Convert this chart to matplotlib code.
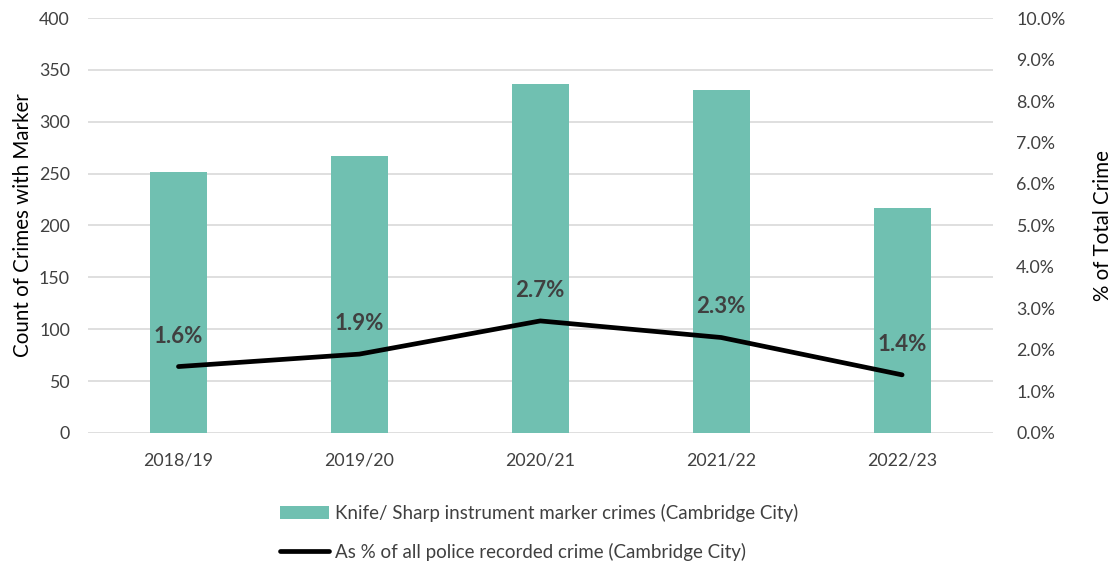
import matplotlib
matplotlib.use("Agg")
import matplotlib.pyplot as plt
from matplotlib.ticker import FuncFormatter, MultipleLocator
from matplotlib.lines import Line2D
from matplotlib.patches import Patch

plt.rcParams['font.family'] = ['Lato', 'DejaVu Sans']

years = ["2018/19", "2019/20", "2020/21", "2021/22", "2022/23"]
counts = [252, 267, 336, 331, 217]
pct = [1.6, 1.9, 2.7, 2.3, 1.4]
bar_label = "Knife/ Sharp instrument marker crimes (Cambridge City)"
line_label = "As % of all police recorded crime (Cambridge City)"

bar_color = "#70c0b1"
grid_color = "#d9d9d9"
text_color = "#404040"

fig = plt.figure(figsize=(11.14, 5.63), dpi=100)
ax = fig.add_axes([0.079, 0.231, 0.812, 0.737])
ax2 = ax.twinx()

x = list(range(len(years)))
ax.bar(x, counts, width=0.315, color=bar_color, zorder=2)
ax.set_ylim(0, 400)
ax.set_xlim(-0.5, len(years) - 0.5)
ax.yaxis.set_major_locator(MultipleLocator(50))
ax.grid(axis='y', color=grid_color, linewidth=1.2, zorder=0)
ax.set_axisbelow(True)
ax.set_xticks(x)
ax.set_xticklabels(years)
ax.tick_params(axis='both', length=0, labelsize=12.8, colors=text_color, pad=13)
ax.tick_params(axis='x', pad=14)
for s in ax.spines.values():
    s.set_visible(False)
for s in ax2.spines.values():
    s.set_visible(False)
ax.set_ylabel("Count of Crimes with Marker", fontsize=14.8, color='black', labelpad=4)

ax2.plot(x, pct, color='black', linewidth=3.4, solid_capstyle='round', zorder=3)
ax2.set_ylim(0, 10)
ax2.yaxis.set_major_locator(MultipleLocator(1))
ax2.yaxis.set_major_formatter(FuncFormatter(lambda v, p: f"{v:.1f}%"))
ax2.tick_params(axis='y', length=0, labelsize=12.8, colors=text_color, pad=17)
ax2.set_ylabel("% of Total Crime", fontsize=14.8, color='black', labelpad=20)

for xi, v in zip(x, pct):
    ax2.annotate(f"{v:.1f}%", (xi, v), xytext=(0, 22), textcoords='offset points',
                 ha='center', va='center', fontsize=16, fontweight='bold', color=text_color)

handles = [Patch(facecolor=bar_color, edgecolor='none'),
           Line2D([0], [0], color='black', linewidth=3.4, solid_capstyle='round')]
fig.legend(handles, [bar_label, line_label], loc='upper center',
           bbox_to_anchor=(0.484, 0.135), ncol=1, frameon=False, fontsize=13.5,
           handlelength=2.6, handletextpad=0.3, labelspacing=1.1, labelcolor=text_color)

fig.savefig("out.png", dpi=100)
